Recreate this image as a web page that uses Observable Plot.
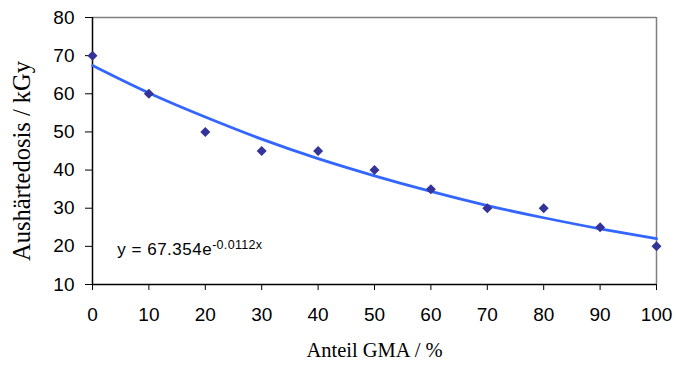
<!DOCTYPE html>
<html>
<head>
<meta charset="utf-8">
<script src="https://cdn.jsdelivr.net/npm/d3@7"></script>
<script src="https://cdn.jsdelivr.net/npm/@observablehq/plot@0.6"></script>
<style>
  html, body { margin: 0; padding: 0; background: #fff; }
</style>
</head>
<body>
<div id="chart"></div>
<script>
// Measured data points (Anteil GMA / %, Aushärtedosis / kGy)
const gmaShare = [0, 10, 20, 30, 40, 50, 60, 70, 80, 90, 100];
const dose = [70, 60, 50, 45, 45, 40, 35, 30, 30, 25, 20];

// Exponential trend line
const trendX = [0, 10, 20, 30, 40, 50, 60, 70, 80, 90, 100];
const trendY = [67.4, 60.2, 53.9, 48.1, 43.0, 38.5, 34.4, 30.7, 27.5, 24.6, 22.0];

const xTicks = [0, 10, 20, 30, 40, 50, 60, 70, 80, 90, 100];
const yTicks = [10, 20, 30, 40, 50, 60, 70, 80];

const xLabel = "Anteil GMA / %";
const yLabel = "Aushärtedosis / kGy";
const eqBase = "y = 67.354e";
const eqExp = "-0.0112x";
const eqPos = {x: 4.4, y: 19.2};

const points = gmaShare.map((x, i) => ({x, y: dose[i]}));
const trend = trendX.map((x, i) => ({x, y: trendY[i]}));

const chart = Plot.plot({
  width: 676,
  height: 367,
  marginLeft: 92,
  marginRight: 20,
  marginTop: 17,
  marginBottom: 83,
  style: {fontFamily: "Liberation Sans, Arial, sans-serif", fontSize: "19px", color: "black", background: "white"},
  x: {domain: [0, 100]},
  y: {domain: [10, 80]},
  marks: [
    Plot.ruleY([80], {stroke: "#808080", strokeWidth: 1.5}),
    Plot.ruleX([100], {stroke: "#808080", strokeWidth: 1.5}),
    Plot.axisX({ticks: xTicks, tickSize: 6, tickPadding: 17, label: null, fontSize: 19, stroke: "black"}),
    Plot.axisY({ticks: yTicks, tickSize: 7, tickPadding: 11, label: null, fontSize: 19, stroke: "black"}),
    Plot.ruleX([0], {stroke: "black", strokeWidth: 1.5}),
    Plot.ruleY([10], {stroke: "black", strokeWidth: 1.5}),
    Plot.line(trend, {x: "x", y: "y", stroke: "#3366FF", strokeWidth: 2.8, curve: "natural"}),
    Plot.dot(points, {x: "x", y: "y", symbol: "diamond2", r: 4.5, fill: "#333399", stroke: "none"}),
    Plot.text([eqBase], {x: () => eqPos.x, y: () => eqPos.y, text: d => d, textAnchor: "start", fontSize: 17, fontFamily: "Liberation Sans, Arial, sans-serif", fill: "black", className: "eq"}),
    Plot.text([xLabel], {frameAnchor: "bottom", textAnchor: "middle", dy: 72, text: d => d, fontSize: 20.5, fontFamily: "Liberation Serif, Times New Roman, serif", fill: "black"}),
    Plot.text([yLabel], {frameAnchor: "left", textAnchor: "middle", dx: -70, dy: 10, rotate: -90, text: d => d, fontSize: 24.5, fontFamily: "Liberation Serif, Times New Roman, serif", fill: "black"})
  ]
});

// superscript exponent of the trend equation
d3.select(chart).select("g.eq text")
  .attr("letter-spacing", "0.5px")
  .append("tspan")
  .attr("dy", "-0.45em")
  .attr("font-size", "12.5px")
  .attr("letter-spacing", "0.3px")
  .text(eqExp);

document.getElementById("chart").appendChild(chart);
</script>
</body>
</html>
